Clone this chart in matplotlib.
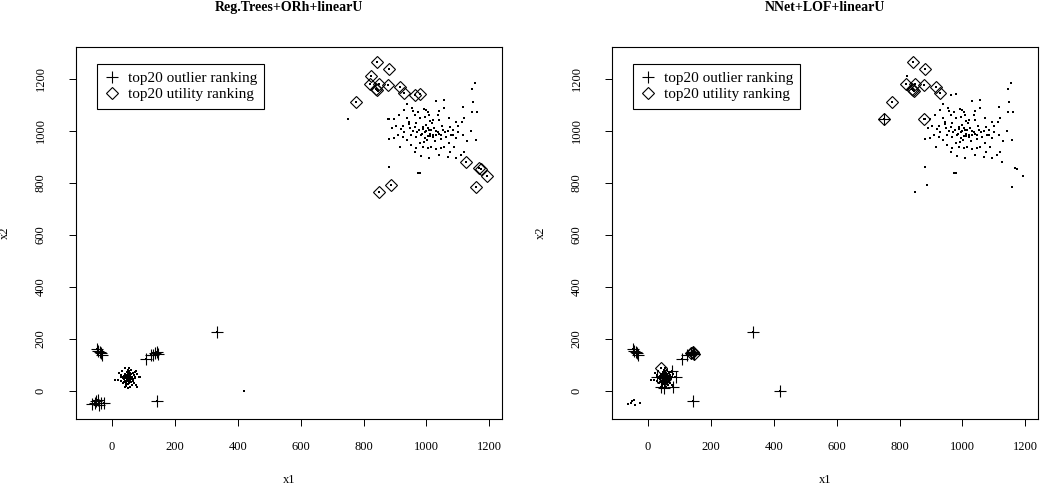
import numpy as np
import matplotlib
matplotlib.use("Agg")
import matplotlib.pyplot as plt
from matplotlib.lines import Line2D

plt.rcParams["font.family"] = ["Liberation Serif", "DejaVu Serif"]

# ---- data ----
# small dense cluster near (50, 50)
clusterA_x = [52, 48, 55, 60, 45, 50, 58, 42, 63, 47, 53, 57, 40, 65, 50, 44, 61, 55, 38, 68,
              49, 52, 46, 59, 56, 43, 62, 51, 35, 70, 54, 48, 57, 41, 66, 50, 53, 45, 60, 58,
              9, 41, 55, 73, 87, 89, 76, 52, 46, 36, 23, 20, 30, 75, 64, 28, 80, 33, 71, 50,
              44, 58, 62, 39, 47, 55, 51, 67, 31, 72]
clusterA_y = [50, 55, 45, 52, 48, 60, 40, 52, 47, 42, 57, 62, 45, 55, 38, 63, 35, 68, 58, 44,
              46, 66, 35, 58, 30, 40, 64, 53, 50, 60, 42, 72, 50, 66, 38, 28, 75, 56, 44, 70,
              42, 87, 90, 74, 53, 55, 23, 10, 19, 29, 68, 42, 62, 48, 22, 38, 65, 78, 30, 82,
              25, 16, 80, 33, 62, 55, 44, 68, 52, 52]

# large cluster near (1000, 1000)
clusterB_x = [1154, 1144, 1147, 1162, 1145, 1158,
              937, 953, 957, 972, 991, 1006, 1031, 1057, 1057, 1115,
              882, 898, 914, 937, 943, 962, 978, 994, 1009, 1020, 1036, 1041, 1073, 1094, 1113,
              891, 904, 919, 930, 946, 962, 976, 988, 999, 1009, 1025, 1036, 1052, 1068, 1083, 1099,
              882, 898, 909, 925, 937, 951, 967, 983, 994, 1004, 1020, 1031, 1046, 1062, 1078, 1094, 1115,
              951, 967, 978, 988, 1004, 1015, 1031, 1046, 1057, 1073, 1089,
              962, 983, 1009, 1041, 1068, 1094, 1110, 1120,
              880, 972, 980,
              1000, 1010, 990, 1015, 995, 1022, 985, 1030, 1005, 1012, 970, 1040, 1018, 958, 1050,
              1028, 992, 1060, 945, 1075, 1010, 1003, 1045, 968, 1085, 1100, 925, 1120, 1140, 1130,
              915, 1075, 1000, 1040, 930]
clusterB_y = [1183, 1160, 1113, 1074, 1072, 965,
              1102, 1087, 1078, 1074, 1083, 1074, 1115, 1119, 1087, 1094,
              1046, 1046, 1061, 1049, 1036, 1061, 1049, 1055, 1061, 1042, 1061, 1042, 1049, 1036, 1036,
              1013, 1019, 1006, 997, 1010, 1014, 1004, 1017, 1023, 1004, 1010, 997, 1004, 1001, 1004, 997,
              968, 972, 985, 976, 965, 985, 976, 985, 972, 981, 976, 985, 968, 976, 985, 972, 985,
              946, 933, 952, 940, 933, 937, 929, 933, 940, 952, 940,
              920, 904, 895, 908, 899, 895, 908, 920,
              863, 840, 840,
              1000, 990, 1008, 1002, 995, 985, 990, 1000, 1012, 980, 995, 990, 1030, 1000, 1020,
              960, 958, 995, 1025, 1015, 1040, 965, 985, 1030, 985, 1020, 1020, 1050, 1000, 960,
              940, 920, 1080, 1075, 1080]

# points on the edge of the large cluster
edge_x = [843, 880, 824, 821, 848, 877, 842, 838, 846, 916, 927, 962, 978, 775, 1126, 1168,
          1173, 1192, 888, 849, 1157]
edge_y = [1264, 1238, 1213, 1181, 1179, 1177, 1158, 1162, 1155, 1168, 1145, 1138, 1141, 1113,
          879, 856, 852, 827, 792, 767, 786]

# the small outlying groups and single points
other_x = [-48, -38, -33, -30, -45, 110, 125, 137, 142, 146, -62, -50, -43, -40, -25, -55,
           144, 333, 420, 750, 878, 76, 80, 42, 30, 89, 52]
other_y = [163, 150, 145, 139, 155, 123, 137, 145, 149, 141, -50, -40, -33, -56, -45, -45,
           -39, 228, 0, 1046, 1046, 78, 17, 17, 55, 55, 10]

# top20 rankings, panel 1 (Reg.Trees+ORh+linearU)
p1_out_x = [-48, -38, -33, -30, 110, 125, 137, 142, 146, -62, -50, -43, -40, -25, -55,
            144, 333, -45, 132, -35]
p1_out_y = [163, 150, 145, 139, 123, 137, 145, 149, 141, -50, -40, -33, -56, -45, -45,
            -39, 228, 155, 140, -48]
p1_util_x = [843, 880, 824, 821, 848, 877, 842, 838, 916, 927, 962, 978, 775, 1126, 1168,
             1173, 1192, 888, 849, 1157]
p1_util_y = [1264, 1238, 1213, 1181, 1179, 1177, 1158, 1162, 1168, 1145, 1138, 1141, 1113,
             879, 856, 852, 827, 792, 767, 786]

# top20 rankings, panel 2 (NNet+LOF+linearU)
p2_out_x = [-48, -38, -33, -30, -45, 110, 125, 137, 142, 146, 144, 333, 420, 750,
            76, 80, 42, 30, 89, 52]
p2_out_y = [163, 150, 145, 139, 155, 123, 137, 145, 149, 141, -39, 228, 0, 1046,
            78, 17, 17, 55, 55, 10]
p2_util_x = [843, 880, 821, 848, 877, 842, 838, 846, 916, 927, 775, 750, 878, 41, 50, 53,
             56, 137, 142, 146]
p2_util_y = [1264, 1238, 1181, 1179, 1177, 1158, 1162, 1155, 1168, 1145, 1113, 1046, 1046,
             87, 52, 45, 50, 145, 149, 141]

titles = ["Reg.Trees+ORh+linearU", "NNet+LOF+linearU"]
ticks = [0, 200, 400, 600, 800, 1000, 1200]

W, H = 1045, 493
fig = plt.figure(figsize=(W / 100, H / 100), dpi=100)

panels = [
    (76, p1_out_x, p1_out_y, p1_util_x, p1_util_y, 97),
    (612, p2_out_x, p2_out_y, p2_util_x, p2_util_y, 633),
]

all_x = clusterA_x + clusterB_x + edge_x + other_x
all_y = clusterA_y + clusterB_y + edge_y + other_y

for i, (left, ox, oy, ux, uy, leg_left) in enumerate(panels):
    ax = fig.add_axes([left / W, (H - 419) / H, 426 / W, 372 / H])
    ax.plot(all_x, all_y, ls="none", marker="s", ms=2.1, mew=0, color="black")
    ax.plot(ox, oy, ls="none", marker="+", ms=9, mew=0.8, color="black")
    ax.plot(ux, uy, ls="none", marker="D", ms=6, mew=0.8, mfc="none", mec="black")

    ax.set_xlim(-114, 1240)
    ax.set_ylim(-108, 1323)
    ax.set_xticks(ticks)
    ax.set_yticks(ticks)
    ax.set_xticklabels([str(t) for t in ticks], fontsize=9)
    ax.set_yticklabels([str(t) for t in ticks], fontsize=9, rotation=90, va="center")
    ax.tick_params(axis="both", length=5, width=0.7)
    ax.tick_params(axis="x", pad=11)
    ax.tick_params(axis="y", pad=16)
    for s in ax.spines.values():
        s.set_linewidth(0.8)

    ax.set_xlabel("x1", fontsize=9, labelpad=15)
    ax.set_ylabel("x2", fontsize=9, labelpad=17)
    ax.set_title(titles[i], fontsize=10, fontweight="bold", pad=26)

    handles = [
        Line2D([], [], ls="none", marker="+", ms=9, mew=0.8, color="black"),
        Line2D([], [], ls="none", marker="D", ms=6, mew=0.8, mfc="none", mec="black"),
    ]
    leg = fig.legend(handles, ["top20 outlier ranking", "top20 utility ranking"],
                     loc="upper left", bbox_to_anchor=(leg_left / W, 1 - 64 / H),
                     fontsize=11, frameon=True, fancybox=False, edgecolor="black",
                     framealpha=1, borderaxespad=0, handlelength=1.0, handletextpad=0.5,
                     labelspacing=0.12, borderpad=0.5)
    leg.get_frame().set_linewidth(0.8)

fig.savefig("out.png", dpi=100)
